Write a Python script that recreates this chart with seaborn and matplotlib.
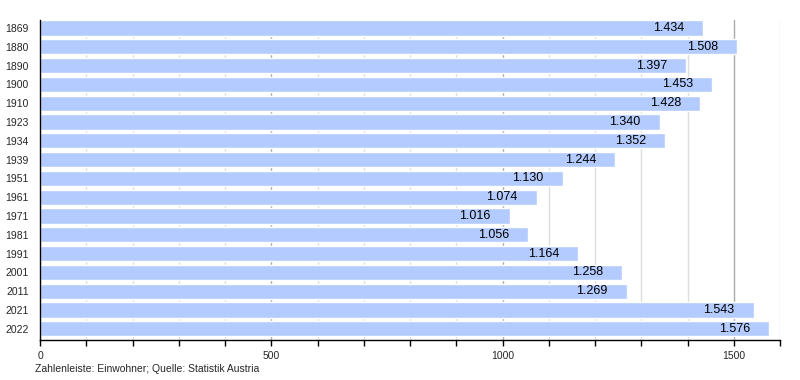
import matplotlib
matplotlib.use("Agg")
import matplotlib.pyplot as plt
import seaborn as sns
import pandas as pd
from matplotlib.ticker import MultipleLocator

# Einwohner pro Zähljahr
years = ["1869", "1880", "1890", "1900", "1910", "1923", "1934", "1939", "1951",
         "1961", "1971", "1981", "1991", "2001", "2011", "2021", "2022"]
population = [1434, 1508, 1397, 1453, 1428, 1340, 1352, 1244, 1130,
              1074, 1016, 1056, 1164, 1258, 1269, 1543, 1576]

df = pd.DataFrame({"Jahr": years, "Einwohner": population})

sns.set_style("white")
plt.rcParams["font.family"] = ["Liberation Sans", "DejaVu Sans"]

fig = plt.figure(figsize=(8, 3.8), dpi=100)
ax = fig.add_axes([0.05, 0.105, 0.925, 0.842])

sns.barplot(data=df, x="Einwohner", y="Jahr", orient="h", color="#b3cbff",
            saturation=1, width=0.81, ax=ax, zorder=2)

ax.set_xlim(0, 1600)
ax.set_ylim(16.6, -0.42)
ax.xaxis.set_major_locator(MultipleLocator(500))
ax.xaxis.set_minor_locator(MultipleLocator(100))
ax.grid(which="major", axis="x", color="#aaaaaa", linewidth=1, zorder=0)
ax.grid(which="minor", axis="x", color="#dddddd", linewidth=1, zorder=0)
ax.grid(which="major", axis="y", visible=False)
ax.set_axisbelow(True)

for s in ["top", "right"]:
    ax.spines[s].set_visible(False)
for s in ["left", "bottom"]:
    ax.spines[s].set_color("black")
    ax.spines[s].set_linewidth(1)

ax.tick_params(axis="x", which="both", direction="out", length=4, width=1,
               color="black", labelsize=7.5, pad=4, bottom=True)
ax.tick_params(axis="y", length=0, labelsize=7.5, pad=8)
ax.set_xlabel("")
ax.set_ylabel("")

# Werte am Balkenende
for i, v in enumerate(population):
    ax.text(v - 19 / 0.4622, i, f"{v:,}".replace(",", "."), ha="right",
            va="center", fontsize=9, color="black", zorder=3)

fig.text(35 / 800, 1 - 369 / 380, "Zahlenleiste: Einwohner; Quelle: Statistik Austria",
         fontsize=7.5, va="center", ha="left")

fig.savefig("out.png", dpi=100)
